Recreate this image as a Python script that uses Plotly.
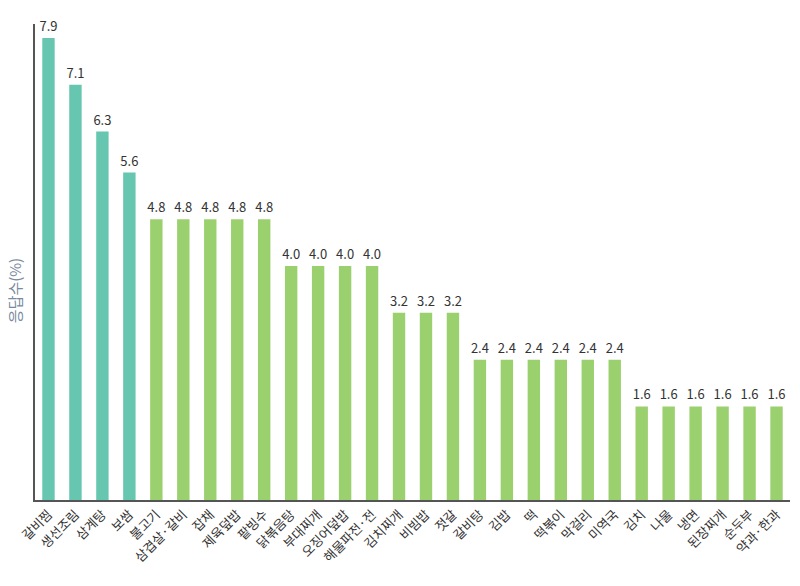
import plotly.graph_objects as go

foods = ["갈비찜", "생선조림", "삼계탕", "보쌈", "불고기", "삼겹살·갈비", "잡채",
         "제육덮밥", "팥빙수", "닭볶음탕", "부대찌개", "오징어덮밥", "해물파전·전",
         "김치찌개", "비빔밥", "젓갈", "갈비탕", "김밥", "떡", "떡볶이", "막걸리",
         "미역국", "김치", "나물", "냉면", "된장찌개", "순두부", "약과·한과"]
share = [7.9, 7.1, 6.3, 5.6, 4.8, 4.8, 4.8, 4.8, 4.8, 4.0, 4.0, 4.0, 4.0,
         3.2, 3.2, 3.2, 2.4, 2.4, 2.4, 2.4, 2.4, 2.4, 1.6, 1.6, 1.6, 1.6, 1.6, 1.6]
top_n = 4

colors = ["#66c6b0" if i < top_n else "#9bd06e" for i in range(len(foods))]
font = "Noto Sans CJK KR"

fig = go.Figure(go.Bar(
    x=foods, y=share,
    marker=dict(color=colors, line=dict(width=0)),
    texttemplate="%{y:.1f}", textposition="outside", constraintext="none",
    textfont=dict(family=font, size=13, color="#333333"),
    cliponaxis=False,
))

fig.update_layout(
    width=800, height=586,
    margin=dict(l=35, r=10, t=24, b=86),
    paper_bgcolor="white", plot_bgcolor="white",
    bargap=0.54,
    showlegend=False,
    font=dict(family=font),
    xaxis=dict(tickangle=-45, showgrid=False, showline=True, linecolor="#555555",
               linewidth=1.5, ticks="", automargin=False,
               tickfont=dict(family=font, size=13, color="#333333")),
    yaxis=dict(range=[0, 8.14], showgrid=False, showline=True, linecolor="#555555",
               linewidth=1.5, showticklabels=False, ticks="", zeroline=False,
               automargin=False),
    annotations=[dict(text="응답수(%)", xref="paper", yref="paper", x=-0.027, y=0.44,
                      xanchor="center", yanchor="middle", textangle=-90, showarrow=False,
                      font=dict(family=font, size=15, color="#7a8a9e"))],
)

# page body has a default 8px margin; drop it so the figure sits at 0,0
fig.write_html("out.html", config={"displayModeBar": False},
               post_script="document.body.style.margin='0';")
